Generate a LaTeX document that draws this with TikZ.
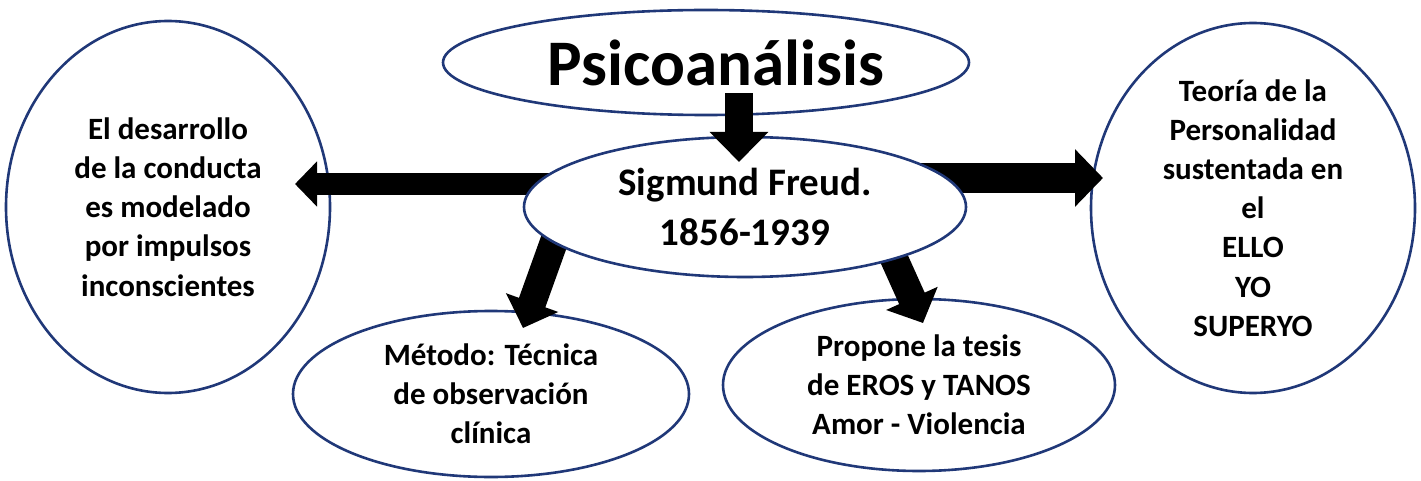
\documentclass[tikz,border=0pt]{standalone}
\usepackage{fontspec}
\setmainfont{Carlito}
\usetikzlibrary{shapes.geometric,arrows.meta,calc}
\pgfdeclarelayer{mid}
\pgfdeclarelayer{front}
\pgfdeclarelayer{top}
\pgfsetlayers{main,mid,front,top}
\definecolor{elb}{RGB}{32,56,120}
\tikzset{
  bubble/.style={ellipse, draw=elb, line width=2.6pt, fill=white, inner sep=0pt,
    align=center, font=\bfseries\fontsize{31}{39.2}\selectfont},
  blk/.style args={#1/#2/#3}{draw=black, line width=#1,
    -{Triangle[width=#2,length=#3]}}
}
\begin{document}
\begin{tikzpicture}[x=1pt,y=-1pt]
\fill[white] (0,0) rectangle (1421,481);
\useasboundingbox (0,0) rectangle (1421,481);

% outer ellipses
\node[bubble, minimum width=324pt, minimum height=372pt] (left) at (168,207)
  {El desarrollo\\de la conducta\\es modelado\\por impulsos\\inconscientes};
\node[bubble, minimum width=324pt, minimum height=370pt] (right) at (1253,208)
  {Teoría de la\\Personalidad\\sustentada en\\el\\ELLO\\YO\\SUPERYO};
\node[bubble, minimum width=396pt, minimum height=166pt] (metodo) at (491,394)
  {Método: Técnica\\de observación\\clínica};
\node[bubble, minimum width=392pt, minimum height=172pt] (propone) at (919,385)
  {Propone la tesis\\de EROS y TANOS\\Amor - Violencia};
\node[bubble, minimum width=526pt, minimum height=105pt,
  font=\bfseries\fontsize{65}{70}\selectfont] (psico) at (706,62.5)
  {\hspace*{20pt}Psicoanálisis};

% central ellipse (drawn above the side arrows)
\begin{pgfonlayer}{front}
\node[bubble, minimum width=442pt, minimum height=140pt,
  font=\bfseries\fontsize{39}{50}\selectfont] (freud) at (745,207)
  {Sigmund Freud.\\1856-1939};
\end{pgfonlayer}

% arrow end points
\coordinate (tD) at (739,162);
\coordinate (tL) at (295,184);
\coordinate (tR) at (1103,178);
\coordinate (tM) at (523,328);
\coordinate (tP) at (923,323);

\begin{pgfonlayer}{top}
\draw[blk=28pt/57pt/30pt] ($(tD |- psico.south)+(0,-23)$) -- (tD);
\end{pgfonlayer}
\begin{pgfonlayer}{mid}
\draw[blk=22pt/44pt/22pt] (freud.center |- tL) -- (tL);
\draw[blk=30pt/56pt/28pt] (freud.center |- tR) -- (tR);
\draw[blk=28pt/54pt/27pt] ($(tM)+(37,-103)$) -- (tM);
\draw[blk=28pt/55pt/27pt] ($(tP)+(-45,-100)$) -- (tP);
\end{pgfonlayer}
\end{tikzpicture}
\end{document}
